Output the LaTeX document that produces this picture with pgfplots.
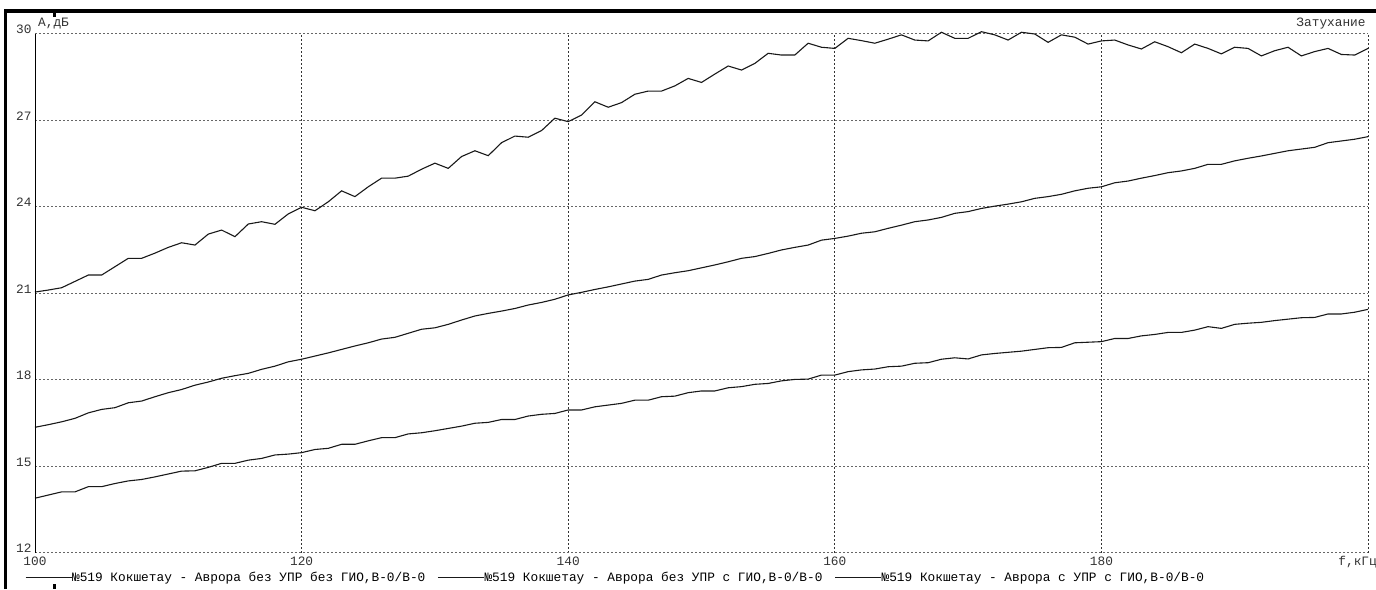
\documentclass[border=0pt]{standalone}
\usepackage{fontspec}
\setmainfont{Liberation Mono}
\usepackage{pgfplots}
\usepackage{pgfplotstable}
\pgfplotsset{compat=1.18}
\pgfplotstableread{
x y
100 21.05
101 21.12
102 21.20
103 21.42
104 21.64
105 21.64
106 21.93
107 22.22
108 22.22
109 22.40
110 22.60
111 22.76
112 22.68
113 23.06
114 23.20
115 22.97
116 23.41
117 23.49
118 23.40
119 23.76
120 23.99
121 23.87
122 24.18
123 24.56
124 24.36
125 24.70
126 25.00
127 25.00
128 25.07
129 25.31
130 25.52
131 25.34
132 25.75
133 25.95
134 25.78
135 26.23
136 26.46
137 26.42
138 26.65
139 27.08
140 26.96
141 27.19
142 27.65
143 27.46
144 27.62
145 27.91
146 28.02
147 28.02
148 28.20
149 28.46
150 28.32
151 28.61
152 28.89
153 28.75
154 28.98
155 29.33
156 29.27
157 29.27
158 29.68
159 29.54
160 29.50
161 29.85
162 29.77
163 29.68
164 29.82
165 29.97
166 29.79
167 29.76
168 30.06
169 29.85
170 29.85
171 30.08
172 29.97
173 29.79
174 30.06
175 30.00
176 29.71
177 29.97
178 29.89
179 29.65
180 29.76
181 29.79
182 29.62
183 29.48
184 29.73
185 29.56
186 29.35
187 29.65
188 29.50
189 29.31
190 29.54
191 29.50
192 29.24
193 29.42
194 29.54
195 29.24
196 29.39
197 29.50
198 29.29
199 29.27
200 29.50
}\curveA
\pgfplotstableread{
x y
100 16.36
101 16.45
102 16.55
103 16.67
104 16.86
105 16.98
106 17.04
107 17.21
108 17.27
109 17.42
110 17.56
111 17.67
112 17.82
113 17.93
114 18.06
115 18.15
116 18.23
117 18.37
118 18.48
119 18.63
120 18.72
121 18.83
122 18.94
123 19.06
124 19.18
125 19.29
126 19.42
127 19.48
128 19.62
129 19.76
130 19.81
131 19.93
132 20.08
133 20.22
134 20.31
135 20.39
136 20.48
137 20.60
138 20.69
139 20.80
140 20.95
141 21.04
142 21.14
143 21.23
144 21.33
145 21.43
146 21.49
147 21.64
148 21.72
149 21.79
150 21.89
151 21.99
152 22.10
153 22.22
154 22.28
155 22.39
156 22.51
157 22.60
158 22.68
159 22.85
160 22.91
161 22.99
162 23.09
163 23.14
164 23.26
165 23.37
166 23.49
167 23.55
168 23.64
169 23.78
170 23.84
171 23.95
172 24.03
173 24.10
174 24.18
175 24.30
176 24.36
177 24.44
178 24.56
179 24.65
180 24.70
181 24.84
182 24.90
183 25.00
184 25.09
185 25.19
186 25.25
187 25.34
188 25.48
189 25.48
190 25.60
191 25.69
192 25.77
193 25.86
194 25.95
195 26.01
196 26.07
197 26.23
198 26.29
199 26.35
200 26.44
}\curveB
\pgfplotstableread{
x y
100 13.90
101 14.01
102 14.12
103 14.12
104 14.30
105 14.30
106 14.41
107 14.50
108 14.55
109 14.64
110 14.74
111 14.84
112 14.85
113 14.97
114 15.11
115 15.11
116 15.22
117 15.28
118 15.40
119 15.43
120 15.48
121 15.59
122 15.63
123 15.77
124 15.77
125 15.89
126 16.00
127 16.00
128 16.13
129 16.17
130 16.24
131 16.32
132 16.40
133 16.50
134 16.53
135 16.63
136 16.63
137 16.75
138 16.81
139 16.84
140 16.96
141 16.96
142 17.07
143 17.13
144 17.19
145 17.30
146 17.30
147 17.42
148 17.44
149 17.56
150 17.62
151 17.62
152 17.73
153 17.77
154 17.85
155 17.88
156 17.97
157 18.02
158 18.03
159 18.17
160 18.17
161 18.29
162 18.35
163 18.38
164 18.46
165 18.48
166 18.58
167 18.60
168 18.72
169 18.77
170 18.73
171 18.87
172 18.92
173 18.96
174 19.00
175 19.06
176 19.12
177 19.13
178 19.29
179 19.31
180 19.33
181 19.44
182 19.44
183 19.53
184 19.58
185 19.65
186 19.65
187 19.73
188 19.85
189 19.79
190 19.93
191 19.97
192 20.00
193 20.06
194 20.11
195 20.16
196 20.17
197 20.29
198 20.29
199 20.35
200 20.45
}\curveC
\begin{document}
\begin{tikzpicture}[font=\fontsize{6.4pt}{7.7pt}\selectfont]
\path[use as bounding box] (0pt,0pt) rectangle (688pt,294.5pt);
\begin{axis}[
  at={(17.5pt,18pt)}, anchor=south west,
  scale only axis, width=666.5pt, height=259.5pt,
  xmin=100, xmax=200, ymin=12, ymax=30,
  xtick={100,120,...,200},
  xticklabels={100,120,140,160,180,},
  ytick={12,15,...,30},
  major tick length=0pt,
  axis line style={draw=none},
  grid=major,
  x grid style={black!80, line width=0.5pt, dash pattern=on 1pt off 1pt},
  y grid style={black!60, line width=0.5pt, dash pattern=on 1pt off 1pt},
  /pgf/number format/assume math mode=true,
  /pgf/number format/1000 sep={},
  ticklabel style={font=\fontsize{6.4pt}{7.7pt}\selectfont, text=black!80, inner sep=0pt},
  xticklabel style={anchor=base, yshift=-6.25pt},
  yticklabel style={anchor=base east, xshift=-1.5pt},
  clip=false,
  legend columns=3,
  legend style={at={(axis description cs:-0.0075,-0.048)}, anchor=west,
    draw=none, fill=none, inner sep=0pt, outer sep=0pt,
    column sep=0pt,
    nodes={inner sep=0pt, text=black},
    /tikz/every even column/.append style={column sep=6pt}},
  legend cell align=left,
  legend image code/.code={\draw[#1] (0pt,0pt) -- (23pt,0pt);},
]
\addplot[black!90, line width=0.55pt] table[x=x,y=y] {\curveA};
\addlegendentry{№519 Кокшетау - Аврора без УПР без ГИО,В-0/В-0}
\addplot[black!90, line width=0.55pt] table[x=x,y=y] {\curveB};
\addlegendentry{№519 Кокшетау - Аврора без УПР с ГИО,В-0/В-0}
\addplot[black!90, line width=0.55pt] table[x=x,y=y] {\curveC};
\addlegendentry{№519 Кокшетау - Аврора с УПР с ГИО,В-0/В-0}
\draw[black, line width=0.5pt] (axis cs:100,12) -- (axis cs:100,30);
\end{axis}
% window frame
\draw[black, line width=1.6pt] (2.85pt,0pt) -- (2.85pt,289pt) -- (688pt,289pt);
\fill[black] (26.5pt,286pt) rectangle (28pt,288.5pt);
\fill[black] (26.5pt,0pt) rectangle (28pt,2.5pt);
% labels
\node[anchor=base west, inner sep=0pt, text=black!80] at (18.9pt,281pt) {А,дБ};
\node[anchor=base east, inner sep=0pt, text=black!80] at (683pt,281pt) {Затухание};
\node[anchor=base west, inner sep=0pt, text=black!80] at (669pt,11.75pt) {f,кГц};
\end{tikzpicture}
\end{document}
